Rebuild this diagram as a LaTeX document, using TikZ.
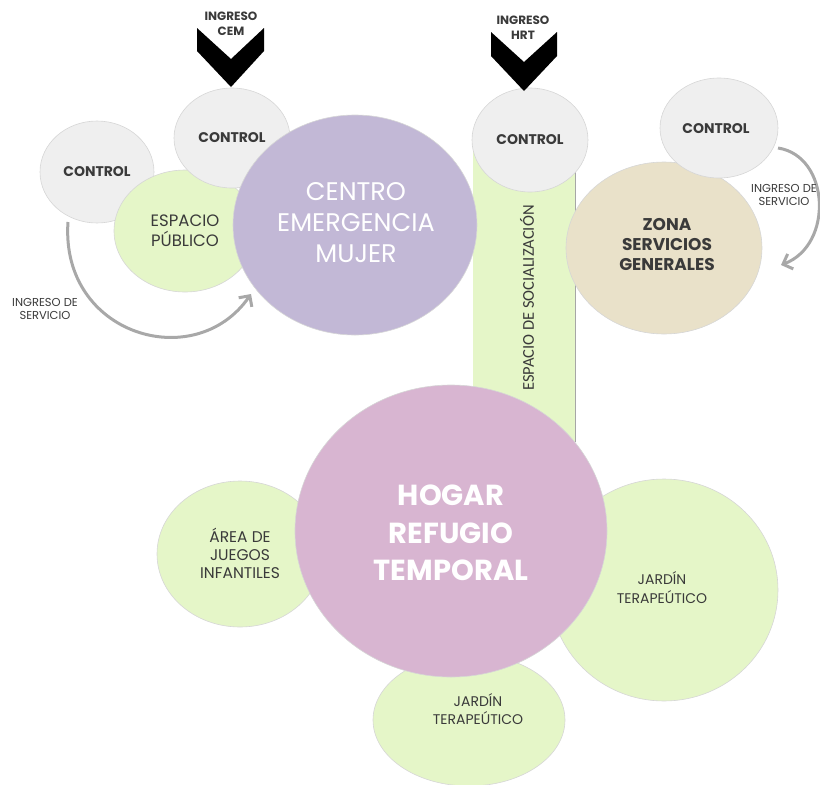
\documentclass[tikz,border=0pt]{standalone}
\usepackage{fontspec}
\setmainfont{Poppins}
\newfontfamily\carlito{Carlito}
\usetikzlibrary{arrows.meta,shapes.geometric}
\definecolor{ctrlc}{HTML}{EFEFEF}
\definecolor{greenc}{HTML}{E5F6C8}
\definecolor{purplec}{HTML}{C2B8D6}
\definecolor{beigec}{HTML}{E9E1C9}
\definecolor{pinkc}{HTML}{D8B5D1}
\definecolor{txtc}{HTML}{3A3A3A}
\definecolor{arrc}{HTML}{A8A8A8}
\definecolor{edgec}{HTML}{D6D6D6}
\tikzset{
  blob/.style={ellipse, inner sep=0pt, draw=edgec, line width=0.6pt, align=center, text=txtc},
  ctrl/.style={blob, fill=ctrlc, minimum width=114pt, minimum height=102pt, font=\fontsize{14}{16}\selectfont\bfseries},
  lbl/.style={align=center, text=txtc, inner sep=0pt},
  bigw/.style={align=center, text=white, inner sep=0pt},
  chev/.style={fill=black},
  garrow/.style={draw=arrc, line width=3pt, -{Straight Barb[length=8pt,width=16pt]}}
}
\begin{document}
\begin{tikzpicture}[x=1pt,y=-1pt]
\useasboundingbox (0,0) rectangle (820,785);
% socialization strip
\fill[greenc] (473,150) rectangle (575,442);
\draw[black!35, line width=0.8pt] (575,150) -- (575,442);
\node[lbl, rotate=90, font=\carlito\fontsize{16.5}{18}\selectfont] (soc) at (527,298) {ESPACIO DE SOCIALIZACIÓN};
% left group
\node[ctrl] (lctrl) at (97,172) {CONTROL};
\node[blob, fill=greenc, minimum width=142pt, minimum height=122pt, font=\fontsize{16.5}{20}\selectfont] (pub) at (185,231) {ESPACIO\\PÚBLICO};
\node[ctrl, minimum width=116pt, minimum height=100pt] (tctrl) at (232,138) {CONTROL};
\node[blob, fill=purplec, minimum width=244pt, minimum height=220pt] (cem) at (355,225) {};
\node[bigw, font=\fontsize{25.5}{31}\selectfont] (cemt) at (356,223) {CENTRO\\EMERGENCIA\\MUJER};
% HRT control
\node[ctrl, minimum width=116pt, minimum height=104pt] (hctrl) at (530,140) {CONTROL};
% right group
\node[blob, fill=beigec, minimum width=196pt, minimum height=172pt, font=\fontsize{17.5}{20}\selectfont\bfseries] (zona) at (664,248) {};
\node[lbl, font=\fontsize{17}{20}\selectfont\bfseries] (zonat) at (667,245) {ZONA\\SERVICIOS\\GENERALES};
\node[ctrl, minimum width=118pt, minimum height=100pt] (rctrl) at (719,128) {};
\node[lbl, font=\fontsize{14}{16}\selectfont\bfseries] (rctrlt) at (716,129) {CONTROL};
% bottom group
\node[blob, fill=greenc, minimum width=192pt, minimum height=132pt] (jb) at (469,720) {};
\node[lbl, font=\fontsize{14}{18}\selectfont] (jbt) at (478,709) {JARDÍN\\TERAPEÚTICO};
\node[blob, fill=greenc, minimum width=166pt, minimum height=146pt] (area) at (240,554) {};
\node[lbl, font=\fontsize{15.5}{18}\selectfont] (areat) at (240,553) {ÁREA DE\\JUEGOS\\INFANTILES};
\node[blob, fill=greenc, minimum width=228pt, minimum height=222pt] (jr) at (664,590) {};
\node[lbl, font=\fontsize{14}{19}\selectfont] (jrt) at (662,588) {JARDÍN\\TERAPEÚTICO};
\node[blob, fill=pinkc, minimum width=312pt, minimum height=292pt] (hrt) at (451,531) {};
\node[bigw, font=\fontsize{29}{37.5}\selectfont\bfseries] (hrtt) at (451,533) {HOGAR\\REFUGIO\\TEMPORAL};
% arrows
\coordinate (la1) at (68,222);
\coordinate (la2) at (251,294);
\draw[garrow] (la1) .. controls (60,335) and (195,375) .. (la2);
\node[lbl, font=\fontsize{11.5}{13}\selectfont] (lat) at (45,309) {INGRESO DE\\SERVICIO};
\coordinate (ra1) at (778,148);
\coordinate (ra2) at (781,265);
\draw[garrow] (ra1) .. controls (830,156) and (834,245) .. (ra2);
\node[lbl, font=\fontsize{11.5}{13}\selectfont] (rat) at (784,195) {INGRESO DE\\SERVICIO};
% chevrons
\fill[chev] (197,28) -- (231,59) -- (264,28) -- (264,51) -- (231,87) -- (197,51) -- cycle;
\node[lbl, font=\fontsize{12}{15}\selectfont\bfseries] (icem) at (231,24) {INGRESO\\CEM};
\fill[chev] (491,32) -- (524,62) -- (557,32) -- (557,56) -- (524,91) -- (491,56) -- cycle;
\node[lbl, font=\fontsize{12}{15}\selectfont\bfseries] (ihrt) at (523,28) {INGRESO\\HRT};
\end{tikzpicture}
\end{document}
